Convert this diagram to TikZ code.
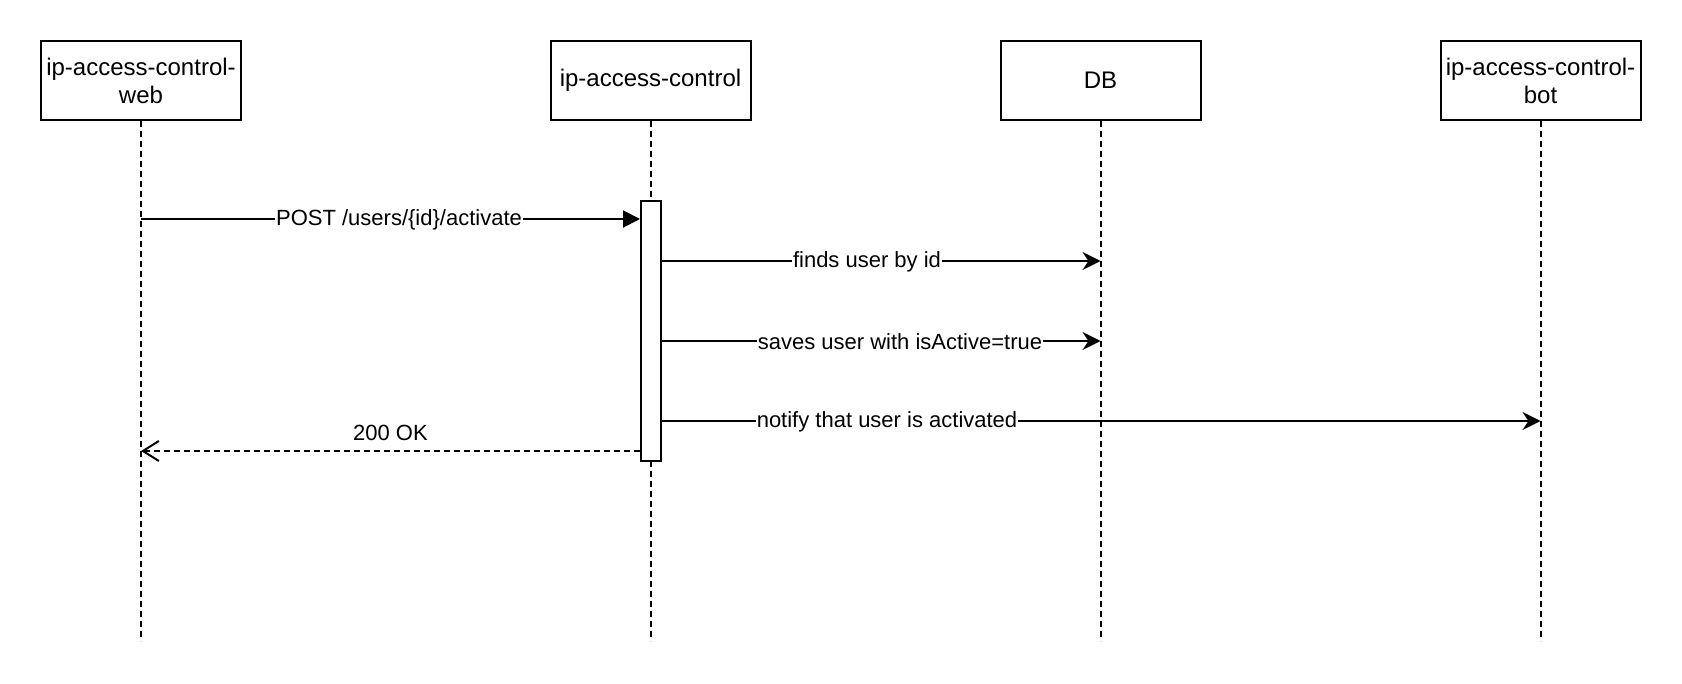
\documentclass[tikz,border=0pt]{standalone}
\usepackage{fontspec}
\setmainfont{Liberation Sans}
\usetikzlibrary{arrows.meta}

\newcommand*{\lifeend}{641}

\begin{document}
\begin{tikzpicture}
[
	x=0.5pt,
	y=-0.5pt,
	actor/.style={rectangle,draw,line width=1pt,fill=white,minimum width=100pt,minimum height=39.5pt,inner sep=0pt,align=center,font=\fontsize{12}{14}\selectfont},
	lifeline/.style={line width=1pt,dash pattern=on 3pt off 2pt},
	actbar/.style={rectangle,draw,line width=1pt,fill=white,minimum width=10pt,minimum height=130pt,inner sep=0pt},
	msg/.style={line width=1pt,-{Stealth[length=9pt,width=9pt,inset=3pt]}},
	call/.style={line width=1pt,-{Triangle[length=8.5pt,width=8.5pt]}},
	reply/.style={line width=1pt,dash pattern=on 3pt off 2pt,-{Straight Barb[length=8pt,width=10pt]}},
	lbl/.style={fill=white,inner sep=0.5pt,font=\fontsize{11}{13}\selectfont}
]

	\useasboundingbox (0,0) rectangle (1682,684);

	% participants
	\node[actor] at (141,80.5) (web) {ip-access-control-\\web};
	\node[actor] at (650.5,80.5) (ctrl) {ip-access-control};
	\node[actor] at (1100.5,80.5) (db) {DB};
	\node[actor] at (1540.5,80.5) (bot) {ip-access-control-\\bot};

	% lifelines
	\coordinate (webend) at (141,\lifeend);
	\coordinate (ctrlend) at (650.5,\lifeend);
	\coordinate (dbend) at (1100.5,\lifeend);
	\coordinate (botend) at (1540.5,\lifeend);
	\draw[lifeline] (web) -- (webend);
	\draw[lifeline] (ctrl) -- (ctrlend);
	\draw[lifeline] (db) -- (dbend);
	\draw[lifeline] (bot) -- (botend);

	% activation
	\node[actbar] at (651,331) (act) {};

	% messages
	\coordinate (post) at (141,219);
	\draw[call] (post) -- (post -| act.west);
	\node[lbl] at (399,220) (postlbl) {POST /users/\{id\}/activate};

	\coordinate (finds) at (1100.5,261);
	\draw[msg] (finds -| act.east) -- (finds);
	\node[lbl] at (867,262) (findslbl) {finds user by id};

	\coordinate (saves) at (1100.5,341);
	\draw[msg] (saves -| act.east) -- (saves);
	\node[lbl] at (900,342) (saveslbl) {saves user with isActive=true};

	\coordinate (notify) at (1540.5,421);
	\draw[msg] (notify -| act.east) -- (notify);
	\node[lbl] at (887,422) (notifylbl) {notify that user is activated};

	\coordinate (ok) at (141,451);
	\draw[reply] (ok -| act.west) -- (ok);
	\node[font=\fontsize{11}{13}\selectfont] at (390.5,433) (oklbl) {200 OK};

\end{tikzpicture}
\end{document}
